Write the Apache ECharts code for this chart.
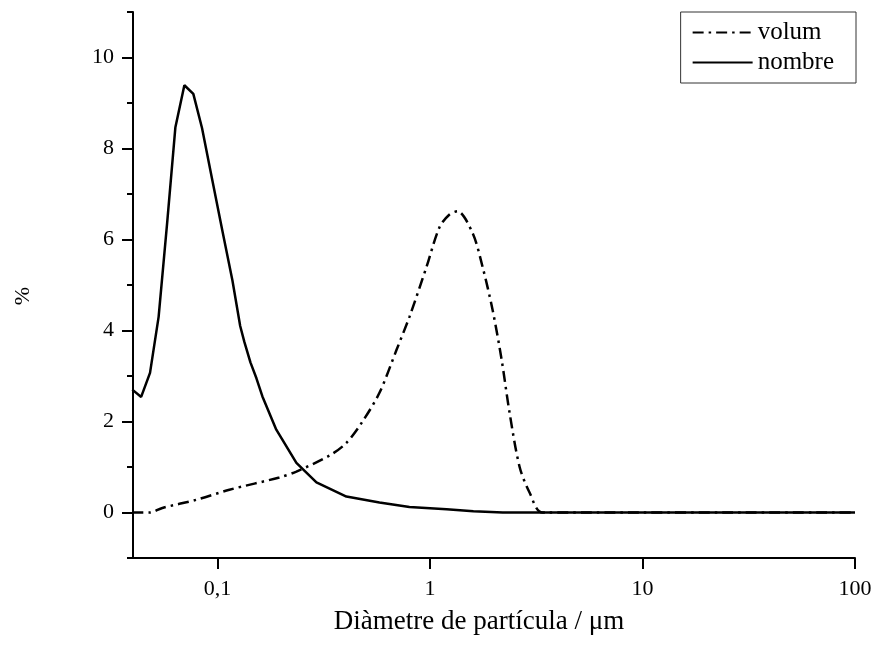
<!DOCTYPE html>
<html>
<head>
<meta charset="utf-8">
<script src="https://cdn.jsdelivr.net/npm/echarts@6/dist/echarts.min.js"></script>
<style>
  html, body { margin: 0; padding: 0; background: #fff; }
  #chart { width: 874px; height: 659px; }
</style>
</head>
<body>
<div id="chart"></div>
<script>
// diametre (um) i % per cada corba
let nombreSize = [0.0397, 0.0437, 0.0481, 0.0528, 0.058, 0.0633, 0.0698, 0.0769, 0.0845, 0.0945, 0.1053, 0.1175, 0.1278, 0.1337, 0.1428, 0.1524, 0.1626, 0.189, 0.235, 0.292, 0.404, 0.578, 0.8, 1.196, 1.6, 2.2, 100];
let nombreVal = [2.7, 2.54, 3.07, 4.3, 6.4, 8.46, 9.39, 9.2, 8.45, 7.3, 6.2, 5.1, 4.1, 3.75, 3.3, 2.95, 2.55, 1.82, 1.09, 0.66, 0.35, 0.22, 0.12, 0.07, 0.03, 0, 0];

let volumSize = [0.0397, 0.048, 0.055, 0.0795, 0.1137, 0.1954, 0.235, 0.336, 0.404, 0.481, 0.578, 0.695, 0.8, 0.963, 1.108, 1.235, 1.347, 1.586, 1.767, 1.97, 2.172, 2.368, 2.64, 2.94, 3.39, 100];
let volumVal = [0, 0, 0.1, 0.28, 0.5, 0.77, 0.9, 1.25, 1.53, 2.0, 2.63, 3.57, 4.3, 5.4, 6.27, 6.55, 6.62, 6.14, 5.4, 4.45, 3.36, 2.19, 1.0, 0.44, 0, 0];

let xTicks = [0.1, 1, 10, 100];
let yTicks = [0, 2, 4, 6, 8, 10];

let font = "Liberation Serif";

function pairs(xs, ys) {
  return xs.map(function (x, i) { return [x, ys[i]]; });
}

let chart = echarts.init(document.getElementById("chart"));
let option = {
  backgroundColor: "#fff",
  animation: false,
  grid: { left: 133, right: 19, top: 12, bottom: 101, containLabel: false, outerBoundsMode: "none" },
  legend: {
    data: ["volum", "nombre"],
    orient: "vertical",
    right: 18,
    top: 12,
    padding: [8, 22, 8, 11],
    itemGap: 5,
    itemWidth: 60,
    itemHeight: 14,
    borderColor: "#333",
    borderWidth: 1,
    itemStyle: { opacity: 0 },
    textStyle: { color: "#000", fontFamily: font, fontSize: 25 }
  },
  xAxis: {
    type: "log",
    min: 0.04,
    max: 100,
    name: "Diàmetre de partícula / μm",
    nameLocation: "middle",
    nameGap: 50,
    nameTextStyle: { color: "#000", fontFamily: font, fontSize: 27, padding: [0, 30, 0, 0] },
    axisLine: { onZero: false, lineStyle: { color: "#000", width: 2 } },
    axisTick: { inside: false, length: 11, customValues: xTicks, lineStyle: { color: "#000", width: 2 } },
    axisLabel: {
      customValues: xTicks,
      margin: 20,
      color: "#000",
      fontFamily: font,
      fontSize: 22,
      formatter: function (v) { return String(v).replace(".", ","); }
    },
    splitLine: { show: false }
  },
  yAxis: [
    {
      type: "value",
      min: -1,
      max: 11,
      name: "%",
      nameLocation: "middle",
      nameGap: 99,
      nameTextStyle: { color: "#000", fontFamily: font, fontSize: 22, padding: [0, 22, 0, 0] },
      axisLine: { onZero: false, lineStyle: { color: "#000", width: 2 } },
      axisTick: { length: 11, customValues: yTicks, lineStyle: { color: "#000", width: 2 } },
      axisLabel: { customValues: yTicks, margin: 19, color: "#000", fontFamily: font, fontSize: 22 },
      splitLine: { show: false }
    },
    {
      // ticks menors
      type: "value",
      position: "left",
      min: -1,
      max: 11,
      interval: 1,
      axisLine: { show: false },
      axisTick: { length: 6, lineStyle: { color: "#000", width: 2 } },
      axisLabel: { show: false },
      splitLine: { show: false }
    }
  ],
  series: [
    {
      name: "volum",
      type: "line",
      symbol: "none",
      smooth: 0.3,
      data: pairs(volumSize, volumVal),
      lineStyle: { color: "#000", width: 2.5, type: [11, 5, 2.5, 5] },
      itemStyle: { color: "#000" }
    },
    {
      name: "nombre",
      type: "line",
      symbol: "none",
      data: pairs(nombreSize, nombreVal),
      lineStyle: { color: "#000", width: 2.5, type: "solid" },
      itemStyle: { color: "#000" }
    }
  ]
};
chart.setOption(option);
</script>
</body>
</html>
